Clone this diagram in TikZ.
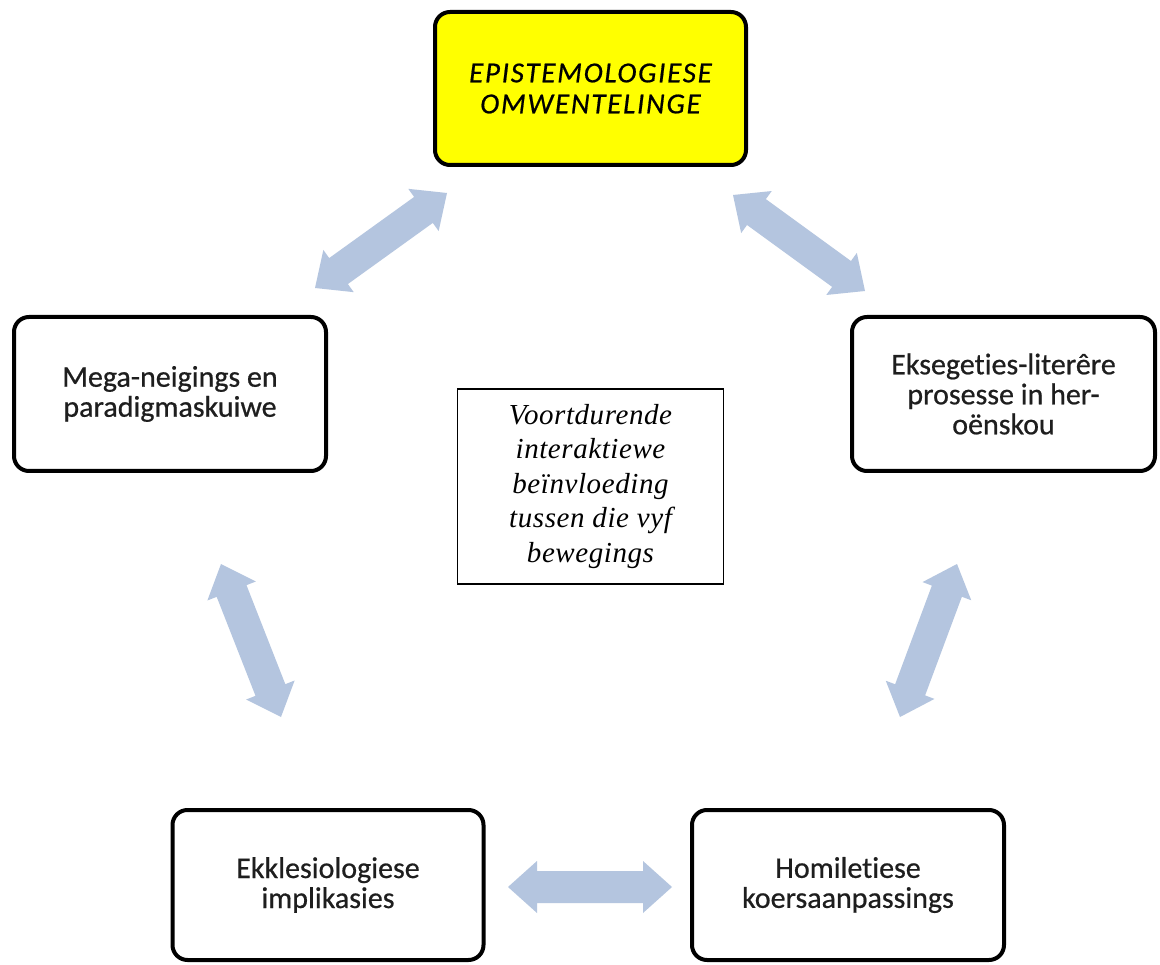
\documentclass[tikz,border=0pt]{standalone}
\usepackage{fontspec}
\setmainfont{Liberation Serif}
\newfontfamily\boxfont[FakeBold=0.6,Ligatures=NoCommon]{Carlito}
\newfontfamily\keyfont[FakeBold=0.6,LetterSpace=6,Ligatures=NoCommon]{Carlito}
\newfontfamily\notefont[LetterSpace=2]{Liberation Serif}
\usetikzlibrary{calc}

\definecolor{arrowblue}{RGB}{180,197,223}
\definecolor{boxyellow}{RGB}{255,255,0}
\definecolor{boxtext}{RGB}{30,30,30}

% arrow geometry: head length, head half-width, shaft half-width
\newcommand\arrL{29pt}
\newcommand\arrH{26pt}
\newcommand\arrW{16pt}

% broad double-headed block arrow between two named coordinates
\newcommand\dblarrow[2]{%
  \coordinate (#1-h) at ($(#1)!\arrL!(#2)$);
  \coordinate (#2-h) at ($(#2)!\arrL!(#1)$);
  \fill[arrowblue] (#1)
    -- ($(#1-h)!\arrH!90:(#2)$) -- ($(#1-h)!\arrW!90:(#2)$)
    -- ($(#2-h)!\arrW!-90:(#1)$) -- ($(#2-h)!\arrH!-90:(#1)$)
    -- (#2)
    -- ($(#2-h)!\arrH!90:(#1)$) -- ($(#2-h)!\arrW!90:(#1)$)
    -- ($(#1-h)!\arrW!-90:(#2)$) -- ($(#1-h)!\arrH!-90:(#2)$)
    -- cycle;}

\tikzset{
  stagebox/.style={draw=black, line width=4pt, rounded corners=15pt,
    fill=white, align=center, text=boxtext, inner sep=0pt,
    font=\boxfont\fontsize{30}{30}\selectfont},
  keybox/.style={stagebox, fill=boxyellow, text=black,
    font=\keyfont\itshape\fontsize{29}{31}\selectfont},
  notebox/.style={draw=black, line width=1.3pt, fill=white, align=center,
    inner sep=0pt, font=\notefont\itshape\fontsize{29}{34.5}\selectfont}
}

\begin{document}
\begin{tikzpicture}[x=1pt, y=-1pt]
  \useasboundingbox (0,0) rectangle (1160,965);
  \fill[white] (0,0) rectangle (1160,965);

  % the five movements
  \node[keybox, minimum width=311pt, minimum height=153pt] (epi) at (590.5,88.5)
    {EPISTEMOLOGIESE\\OMWENTELINGE};
  \node[stagebox, minimum width=312pt, minimum height=154pt] (mega) at (170,394)
    {Mega-neigings en\\paradigmaskuiwe};
  \node[stagebox, minimum width=303pt, minimum height=154pt] (eks) at (1003.5,394)
    {Eksegeties-literêre\\prosesse in her-\\oënskou};
  \node[stagebox, minimum width=311pt, minimum height=150pt] (ekk) at (328,885)
    {Ekklesiologiese\\implikasies};
  \node[stagebox, minimum width=312pt, minimum height=150pt] (hom) at (848,885)
    {Homiletiese\\koersaanpassings};

  % central note
  \node[notebox, minimum width=266pt, minimum height=195pt] (note) at (590.5,486.5)
    {Voortdurende\\interaktiewe\\beïnvloeding\\tussen die vyf\\bewegings};

  % end points of the mutual-influence arrows
  \coordinate (tlA) at (315,288);
  \coordinate (tlB) at (447,193);
  \coordinate (trA) at (733,195);
  \coordinate (trB) at (865,291);
  \coordinate (lA) at (221,564);
  \coordinate (lB) at (281,717);
  \coordinate (rA) at (957,564);
  \coordinate (rB) at (900,717);
  \coordinate (bA) at (508,887);
  \coordinate (bB) at (672,887);

  \dblarrow{tlA}{tlB}
  \dblarrow{trA}{trB}
  \dblarrow{lA}{lB}
  \dblarrow{rA}{rB}
  \dblarrow{bA}{bB}
\end{tikzpicture}
\end{document}
